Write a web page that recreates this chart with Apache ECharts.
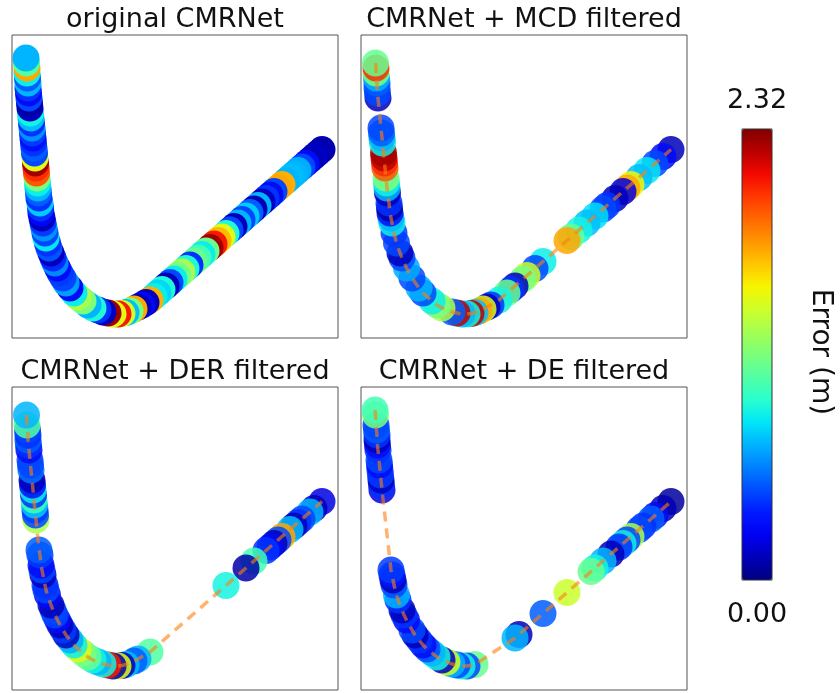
<!DOCTYPE html>
<html>
<head>
<meta charset="utf-8">
<script src="https://cdn.jsdelivr.net/npm/echarts@6/dist/echarts.min.js"></script>
<style>
  html, body { margin: 0; padding: 0; background: #ffffff; }
  #chart { width: 840px; height: 693px; }
</style>
</head>
<body>
<div id="chart"></div>
<script>
// Vehicle track (local metric frame), ordered from the north-west start of the run.
const trackX = [
  14, 14.5, 15, 15, 15.5, 16, 16, 16.5, 17, 17.5,
  18, 18.5, 19, 19.5, 20, 20.5, 21, 21.5, 22, 22.5,
  23, 23.5, 24, 24.5, 25, 25.5, 26, 26.5, 27, 28,
  28.5, 29, 30, 31, 32, 33, 34, 35.5, 37, 39,
  41, 43, 45.5, 48, 51, 54, 58, 62, 66, 71,
  76, 81, 86, 91, 96, 101, 106, 110, 114, 118,
  122, 126, 130, 134, 138, 142, 146, 150, 154, 158,
  162, 166, 170, 174, 178, 182, 186, 190, 194, 198,
  202, 206, 210, 214, 218, 222, 226, 230, 234, 238,
  242, 246, 250, 254, 258, 262, 266, 270, 274, 278,
  282, 286, 290, 294, 298, 302, 306, 310
];
const trackY = [
  280, 275, 270, 265, 260, 255, 250, 245, 240, 235,
  230, 225, 220, 215, 210, 205, 200, 195, 190, 185,
  180, 175, 170, 165, 160, 155, 150, 145, 140, 135,
  130, 125, 120, 115, 110, 105, 100, 95, 90, 85,
  80, 75, 70, 65, 60, 55, 50, 45, 41, 37,
  33, 30, 28, 26, 25, 24, 24, 24.5, 25.5, 27,
  29, 31, 33, 35.5, 38, 41.5, 45, 48.5, 52, 55.5,
  59, 62.5, 66, 69.5, 73, 76.5, 80, 83.5, 87, 90.5,
  94, 97.5, 101, 104.5, 108, 111.5, 115, 118.5, 122, 125.5,
  129, 132.5, 136, 139.5, 143, 146.5, 150, 153.5, 157, 160.5,
  164, 167.5, 171, 174.5, 178, 181.5, 185, 188.5
];

// Localisation error (m) per track point; null = rejected by the filter.
const errOriginal = [
  0.70, 1.05, 1.70, 0.85, 0.50, 0.70, 0.40, 0.28, 0.45, 0.08,
  0.12, 0.87, 0.72, 0.40, 0.62, 0.42, 0.30, 0.40, 0.50, 0.45,
  1.45, 2.25, 2.00, 1.90, 1.16, 0.85, 0.70, 0.50, 0.40, 0.75,
  0.40, 0.26, 0.12, 0.42, 0.62, 0.45, 0.82, 0.40, 0.48, 0.12,
  0.38, 0.60, 0.28, 0.42, 0.45, 0.65, 0.28, 0.85, 1.30, 1.16,
  0.70, 0.90, 0.40, 0.12, 2.25, 1.45, 2.05, 1.40, 0.72, 1.15,
  1.70, 0.12, 0.26, 0.12, 1.68, 0.85, 0.78, 0.90, 0.12, 0.45,
  0.85, 1.15, 1.28, 0.90, 0.40, 1.10, 1.00, 0.85, 1.10, 2.25,
  2.05, 1.65, 1.45, 0.90, 0.45, 0.12, 0.70, 0.45, 0.75, 0.50,
  0.12, 0.70, 0.14, 0.40, 0.28, 0.45, 1.70, 1.68, 0.70, 0.72,
  0.70, 0.68, 0.45, 0.28, 0.12, 0.14, 0.10, 0.10
];
const errMcd = [
  null, 1.10, 2.00, 1.16, 0.70, 0.50, 0.45, 0.45, 0.12, null,
  null, null, null, null, 0.45, 0.50, 0.70, 0.85, null, 2.25,
  2.20, 2.00, 1.90, null, 1.16, 0.87, 0.70, 0.12, null, 0.40,
  0.08, 0.28, 0.70, 0.85, null, 0.42, null, 0.45, null, 0.12,
  0.45, null, 0.68, null, 0.45, null, 0.70, 0.45, null, 0.85,
  1.16, 1.30, null, 0.50, 2.20, 0.70, 0.87, 2.20, 0.72, 1.70,
  1.45, 0.12, 0.40, null, 0.87, null, 1.12, 0.40, 0.12, null,
  1.15, 1.40, null, 0.45, null, 0.85, null, null, null, null,
  null, 1.70, 1.10, null, 0.87, null, 0.72, null, 0.80, null,
  0.45, 0.40, null, 0.12, null, 0.20, 1.70, 1.50, null, 0.72,
  null, 0.82, null, 0.45, null, 0.28, null, 0.12
];
const errDer = [
  null, 0.70, null, 1.05, 0.45, 0.40, 0.50, 0.40, 0.28, null,
  0.45, 0.45, 0.55, null, 0.12, 0.28, 0.85, 0.40, 1.00, 0.75,
  0.42, 0.45, 1.30, null, null, null, null, null, 0.50, 0.42,
  null, 0.28, 0.45, 0.12, null, 0.40, 0.45, 0.28, null, 0.12,
  0.45, 0.45, 0.28, 0.12, 0.42, 0.12, 0.68, 0.85, 1.45, 1.16,
  1.10, 0.87, 0.70, 0.87, 2.05, 0.08, 1.45, 0.10, 0.72, null,
  0.50, 0.70, null, null, 1.05, null, null, null, null, null,
  null, null, null, null, null, null, null, null, null, null,
  null, null, null, 0.87, null, null, null, null, 0.08, null,
  1.00, null, null, 0.40, 0.28, 0.12, 0.45, 1.70, null, 0.72,
  0.12, 0.40, 0.45, null, 0.70, 0.12, null, 0.20
];
const errDe = [
  1.00, 1.16, null, 0.45, 0.50, 0.40, 0.12, 0.28, 0.40, null,
  0.45, 0.28, 0.40, 0.42, 0.12, 0.40, 0.20, null, null, null,
  null, null, null, null, null, null, null, null, null, null,
  null, null, 0.42, 0.32, 0.12, 0.45, null, 0.70, 0.40, null,
  0.12, 0.40, 0.28, null, 0.45, 0.12, 0.40, 0.28, 0.45, 0.70,
  0.87, 0.12, 1.40, 0.70, 0.45, 0.87, 0.45, null, 1.10, null,
  null, null, null, null, null, null, null, null, 0.70, 0.12,
  null, null, null, null, null, 0.50, null, null, null, null,
  null, 1.38, null, null, null, null, null, 1.10, 0.87, null,
  0.70, null, 0.12, null, 0.40, 0.85, 0.45, 1.30, null, 0.45,
  0.40, null, 0.50, 0.28, null, 0.10, null, 0.06
];

const panelTitles = ['original CMRNet', 'CMRNet + MCD filtered', 'CMRNet + DER filtered', 'CMRNet + DE filtered'];
const errorRange = [0, 2.32];
const colorbarTicks = ['2.32', '0.00'];
const colorbarTitle = 'Error (m)';

// jet colormap sampled every 0.05
const jet = [
  '#000080', '#0000b9', '#0000f3', '#001aff', '#004dff', '#0080ff', '#00b3ff',
  '#00e6f7', '#29ffcd', '#52ffa4', '#7bff7b', '#a4ff52', '#cdff29', '#f7f500',
  '#ffc600', '#ff9700', '#ff6800', '#ff3900', '#f30900', '#b90000', '#800000'
];

const FONT = 'DejaVu Sans';
const panelLayout = [
  { left: 12,  top: 35,  dashed: false, opacity: 1 },
  { left: 361, top: 35,  dashed: true,  opacity: 0.85 },
  { left: 12,  top: 387, dashed: true,  opacity: 0.85 },
  { left: 361, top: 387, dashed: true,  opacity: 0.85 }
];
const panelErrors = [errOriginal, errMcd, errDer, errDe];
const PANEL_W = 326, PANEL_H = 303;

// colour bar geometry
const CBAR = { x: 742, y: 129, w: 30, h: 451 };

const grids = [], xAxes = [], yAxes = [], titles = [], scatterSeries = [], lineSeries = [];

panelLayout.forEach((p, k) => {
  grids.push({
    left: p.left, top: p.top, width: PANEL_W, height: PANEL_H,
    show: true, borderColor: '#555', borderWidth: 1, backgroundColor: '#fff'
  });
  xAxes.push({ type: 'value', gridIndex: k, min: 0, max: 326, show: false });
  yAxes.push({ type: 'value', gridIndex: k, min: 0, max: 303, show: false });
  titles.push({
    text: panelTitles[k],
    left: p.left + PANEL_W / 2,
    top: p.top - 29,
    textAlign: 'center',
    padding: 0,
    textStyle: { fontFamily: FONT, fontSize: 27, fontWeight: 'normal', color: '#111' }
  });

  const errs = panelErrors[k];
  // kept points in driving order
  const kept = [];
  for (let i = 0; i < trackX.length; i++) {
    if (errs[i] !== null) kept.push([trackX[i], trackY[i], errs[i]]);
  }
  // the start of the run is drawn last so it sits on top
  scatterSeries.push({
    type: 'scatter',
    xAxisIndex: k, yAxisIndex: k,
    data: kept.slice().reverse(),
    symbol: 'circle',
    symbolSize: 27,
    itemStyle: { opacity: p.opacity },
    silent: true,
    z: 2
  });
  if (p.dashed) {
    lineSeries.push({
      type: 'line',
      xAxisIndex: k, yAxisIndex: k,
      data: kept.map(d => [d[0], d[1]]),
      showSymbol: false,
      symbol: 'none',
      lineStyle: { color: '#ff7f0e', width: 3.5, opacity: 0.6, type: [10, 7] },
      silent: true,
      z: 3
    });
  }
});

const chart = echarts.init(document.getElementById('chart'), null, { renderer: 'canvas' });
chart.setOption({
  animation: false,
  backgroundColor: '#ffffff',
  title: titles,
  grid: grids,
  xAxis: xAxes,
  yAxis: yAxes,
  visualMap: {
    type: 'continuous',
    min: errorRange[0],
    max: errorRange[1],
    dimension: 2,
    seriesIndex: [0, 1, 2, 3],
    inRange: { color: jet },
    orient: 'vertical',
    left: CBAR.x,
    top: CBAR.y,
    itemWidth: CBAR.w,
    itemHeight: CBAR.h,
    text: null,
    calculable: false,
    hoverLink: false,
    padding: 0
  },
  graphic: [
    {
      type: 'rect',
      shape: { x: CBAR.x, y: CBAR.y, width: CBAR.w, height: CBAR.h },
      style: { fill: 'none', stroke: '#333', lineWidth: 1 },
      silent: true, z: 100
    },
    {
      type: 'text',
      x: CBAR.x + CBAR.w / 2, y: CBAR.y - 15,
      style: {
        text: colorbarTicks[0],
        font: '27px "DejaVu Sans"', fill: '#111',
        textAlign: 'center', textVerticalAlign: 'bottom'
      },
      silent: true
    },
    {
      type: 'text',
      x: CBAR.x + CBAR.w / 2, y: CBAR.y + CBAR.h + 21,
      style: {
        text: colorbarTicks[1],
        font: '27px "DejaVu Sans"', fill: '#111',
        textAlign: 'center', textVerticalAlign: 'top'
      },
      silent: true
    },
    {
      type: 'text',
      x: 820, y: 352,
      rotation: -Math.PI / 2,
      style: {
        text: colorbarTitle,
        font: '28px "DejaVu Sans"',
        fill: '#111',
        textAlign: 'center',
        textVerticalAlign: 'middle'
      },
      silent: true
    }
  ],
  series: scatterSeries.concat(lineSeries)
});
</script>
</body>
</html>
